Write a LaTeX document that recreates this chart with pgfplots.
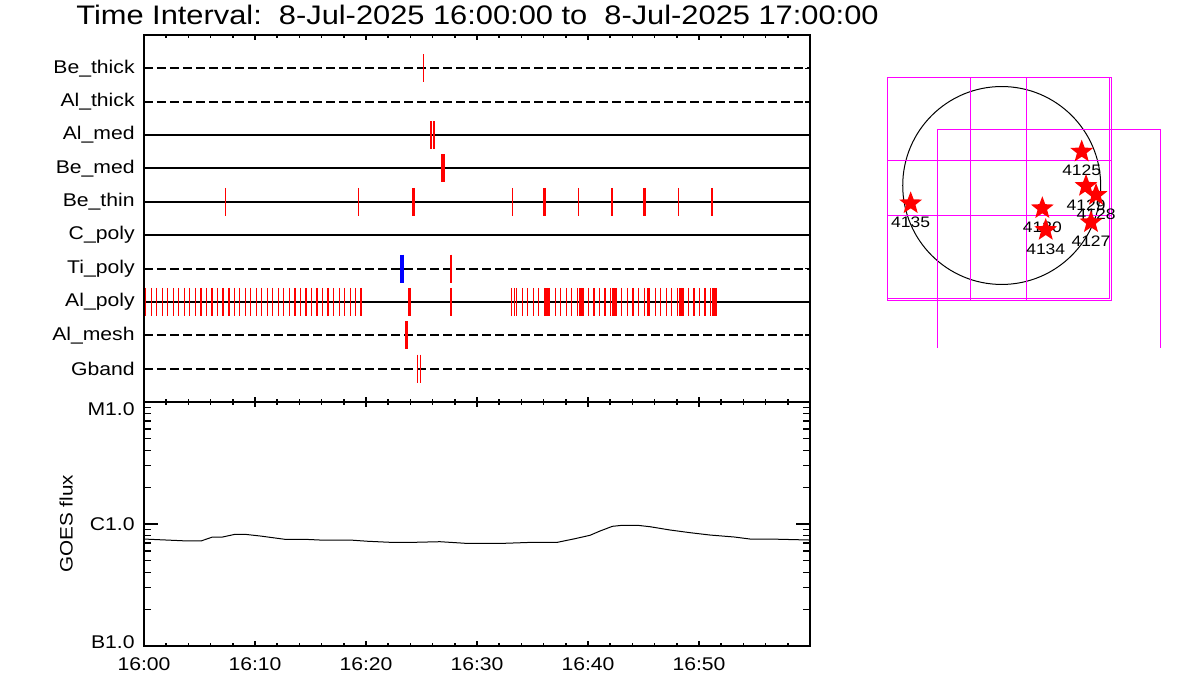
\documentclass[border=0pt]{standalone}
\usepackage{fontspec}
\setmainfont[FakeStretch=1.15]{Liberation Sans}
\usepackage{pgfplots}
\usepackage{pgfplotstable}
\pgfplotsset{compat=1.18}

\definecolor{idlred}{RGB}{255,0,0}
\definecolor{idlblue}{RGB}{0,0,255}
\definecolor{idlmag}{RGB}{255,0,255}

\pgfdeclareplotmark{fivestar}{%
  \pgfpathmoveto{\pgfpointpolar{90}{\pgfplotmarksize}}%
  \pgfpathlineto{\pgfpointpolar{126}{0.42*\pgfplotmarksize}}%
  \pgfpathlineto{\pgfpointpolar{162}{\pgfplotmarksize}}%
  \pgfpathlineto{\pgfpointpolar{198}{0.42*\pgfplotmarksize}}%
  \pgfpathlineto{\pgfpointpolar{234}{\pgfplotmarksize}}%
  \pgfpathlineto{\pgfpointpolar{270}{0.42*\pgfplotmarksize}}%
  \pgfpathlineto{\pgfpointpolar{306}{\pgfplotmarksize}}%
  \pgfpathlineto{\pgfpointpolar{342}{0.42*\pgfplotmarksize}}%
  \pgfpathlineto{\pgfpointpolar{18}{\pgfplotmarksize}}%
  \pgfpathlineto{\pgfpointpolar{54}{0.42*\pgfplotmarksize}}%
  \pgfpathclose
  \pgfusepathqfill}

% event bars: t = minutes after 16:00, row index
\pgfplotstableread{
t row
25.17 10
26.13 8
27.03 7
7.32 6
19.31 6
33.18 6
39.13 6
48.14 6
24.62 1
24.89 1
0.15 3
0.65 3
1.15 3
1.64 3
2.14 3
2.64 3
3.14 3
3.64 3
4.13 3
4.63 3
5.13 3
5.63 3
6.13 3
6.62 3
7.12 3
8.12 3
8.62 3
9.11 3
9.61 3
10.11 3
10.61 3
11.11 3
11.60 3
12.10 3
12.60 3
13.10 3
13.60 3
14.09 3
14.59 3
15.09 3
15.59 3
16.09 3
16.58 3
17.08 3
17.58 3
18.08 3
18.58 3
19.07 3
33.13 3
33.36 3
33.54 3
34.12 3
34.57 3
35.07 3
35.56 3
36.10 3
36.49 3
37.09 3
37.54 3
38.05 3
38.53 3
39.07 3
39.55 3
40.06 3
40.54 3
41.02 3
41.53 3
42.01 3
42.52 3
43.04 3
43.54 3
44.05 3
44.53 3
45.07 3
46.06 3
46.55 3
47.05 3
47.54 3
48.08 3
48.56 3
49.07 3
49.55 3
50.06 3
50.54 3
51.05 3
51.53 3
}\thinbars

\pgfplotstableread{
t row
25.83 8
26.82 7
27.63 4
27.63 3
7.62 3
19.57 3
}\medbars

\pgfplotstableread{
t row
24.26 6
36.10 6
42.16 6
45.10 6
51.17 6
23.90 3
36.28 3
39.31 3
42.28 3
48.32 3
51.29 3
23.63 2
}\thickbars

\pgfplotstableread{
t row
45.43 3
}\widebars

\pgfplotstableread{
t row
23.24 4
}\bluebars

\pgfplotstableread{
t flux
0.00  7.53e-7
3.92  7.26e-7
5.14  7.26e-7
6.17  7.82e-7
7.07  7.82e-7
8.20  8.23e-7
9.10  8.23e-7
10.45 7.98e-7
12.70 7.49e-7
14.50 7.49e-7
15.86 7.39e-7
18.56 7.39e-7
20.14 7.22e-7
22.16 7.08e-7
24.41 7.08e-7
26.67 7.16e-7
28.92 6.95e-7
32.52 6.95e-7
34.10 7.03e-7
35.00 7.08e-7
37.25 7.08e-7
38.83 7.58e-7
40.18 8.08e-7
41.08 8.76e-7
42.20 9.57e-7
43.10 9.76e-7
44.46 9.76e-7
45.59 9.50e-7
47.39 8.93e-7
49.19 8.49e-7
51.00 8.12e-7
53.20 7.82e-7
54.60 7.53e-7
56.40 7.53e-7
60.00 7.39e-7
}\goes

\pgfplotstableread{
x y lab
776 328 4125
818 -5 4129
915 -92 4128
866 -357 4127
394 -221 4130
427 -432 4134
-883 -173 4135
}\regions

\tikzset{rowdash/.style={dash pattern=on 4.4pt off 2.1pt}}

\begin{document}
\begin{tikzpicture}
\useasboundingbox (0pt,0pt) rectangle (600pt,350pt);

\node[font=\fontsize{13.4}{15}\selectfont, anchor=base, inner sep=0pt] at (238.75pt,337.5pt)
  {Time Interval:\ \ 8-Jul-2025 16:00:00 to\ \ 8-Jul-2025 17:00:00};

% ---------------- top panel ----------------
\begin{axis}[
  at={(72pt,149pt)}, anchor=south west, scale only axis,
  width=333pt, height=183.5pt,
  xmin=0, xmax=60, ymin=0, ymax=11,
  xtick={0,10,...,60}, minor x tick num=4, xticklabels={},
  ytick={1,...,10},
  yticklabels={Gband,Al\_mesh,Al\_poly,Ti\_poly,C\_poly,Be\_thin,Be\_med,Al\_med,Al\_thick,Be\_thick},
  tick align=inside, major tick length=2.5pt, minor tick length=1.5pt,
  tick style={line width=0.8pt, black},
  axis line style={line width=0.9pt},
  yticklabel style={font=\fontsize{9.2}{11}\selectfont, inner sep=0pt, xshift=-4.5pt},
  clip=false,
]
\addplot[black, line width=1pt, rowdash] coordinates {(0,10) (60,10)};
\addplot[black, line width=1pt, rowdash] coordinates {(0,9) (60,9)};
\addplot[black, line width=1pt] coordinates {(0,8) (60,8)};
\addplot[black, line width=1pt] coordinates {(0,7) (60,7)};
\addplot[black, line width=1pt] coordinates {(0,6) (60,6)};
\addplot[black, line width=1pt] coordinates {(0,5) (60,5)};
\addplot[black, line width=1pt, rowdash] coordinates {(0,4) (60,4)};
\addplot[black, line width=1pt] coordinates {(0,3) (60,3)};
\addplot[black, line width=1pt, rowdash] coordinates {(0,2) (60,2)};
\addplot[black, line width=1pt, rowdash] coordinates {(0,1) (60,1)};

\addplot[idlred, only marks, mark=|, mark size=7pt, mark options={line width=0.6pt, solid}] table[x=t,y=row] {\thinbars};
\addplot[idlred, only marks, mark=|, mark size=7pt, mark options={line width=0.95pt, solid}] table[x=t,y=row] {\medbars};
\addplot[idlred, only marks, mark=|, mark size=7pt, mark options={line width=1.25pt, solid}] table[x=t,y=row] {\thickbars};
\addplot[idlred, only marks, mark=|, mark size=7pt, mark options={line width=1.7pt, solid}] table[x=t,y=row] {\widebars};
\addplot[idlblue, only marks, mark=|, mark size=7pt, mark options={line width=2pt, solid}] table[x=t,y=row] {\bluebars};
\end{axis}

% ---------------- bottom panel: y ticks, curve ----------------
\begin{axis}[
  at={(72pt,27pt)}, anchor=south west, scale only axis,
  width=333pt, height=122pt,
  xmin=0, xmax=60, xtick=\empty,
  ymode=log, ymin=1e-7, ymax=1e-5,
  ytick={1e-7,1e-6,1e-5}, yticklabels={B1.0,C1.0,M1.0},
  minor ytick={2e-7,3e-7,4e-7,5e-7,6e-7,7e-7,8e-7,9e-7,2e-6,3e-6,4e-6,5e-6,6e-6,7e-6,8e-6,9e-6},
  ytick pos=both, yticklabel pos=left,
  tick align=inside, major tick length=7pt, minor tick length=3.5pt,
  tick style={line width=0.6pt, black},
  axis line style={line width=0.9pt},
  yticklabel style={font=\fontsize{9.2}{11}\selectfont, inner sep=0pt, xshift=-4.5pt,
    yshift={ifthenelse(\ticknum==0,2,ifthenelse(\ticknum==2,-3.5,0))}},
  ylabel={GOES flux},
  ylabel style={at={(axis description cs:-0.117,0.5)}, anchor=center, font=\fontsize{9}{11}\selectfont},
]
\addplot[black, line width=0.5pt] table[x=t,y=flux] {\goes};
\end{axis}

% ---------------- bottom panel: x ticks ----------------
\begin{axis}[
  at={(72pt,27pt)}, anchor=south west, scale only axis,
  width=333pt, height=122pt,
  xmin=0, xmax=60, ymin=0, ymax=1, ytick=\empty,
  xtick={0,10,...,60}, minor x tick num=4,
  xticklabels={16:00,16:10,16:20,16:30,16:40,16:50,{}},
  tick align=inside, major tick length=2.5pt, minor tick length=1.5pt,
  tick style={line width=0.8pt, black},
  axis line style={line width=0.9pt},
  xticklabel style={font=\fontsize{9.2}{11}\selectfont, inner sep=0pt, yshift=-5.5pt},
]
\end{axis}

% ---------------- solar disk panel ----------------
\begin{axis}[
  at={(435pt,175pt)}, anchor=south west, scale only axis,
  width=155pt, height=145pt,
  xmin=-1277.5, xmax=1729.5, ymin=-1595.7, ymax=1217.4,
  axis lines=none, clip=false,
]
\draw[black, line width=0.5pt] (axis cs:0,0) circle [radius=960];
\addplot[idlmag, line width=0.5pt] coordinates {(-1110,1050) (1044,1050) (1044,-1098) (-1110,-1098) (-1110,1050)};
\addplot[idlmag, line width=0.5pt] coordinates {(-1110,1050) (1067,1050) (1067,-1111) (-1110,-1111) (-1110,1050)};
\addplot[idlmag, line width=0.5pt] coordinates {(-307,1050) (-307,-1111)};
\addplot[idlmag, line width=0.5pt] coordinates {(236,1050) (236,-1111)};
\addplot[idlmag, line width=0.5pt] coordinates {(-1110,247) (1067,247)};
\addplot[idlmag, line width=0.5pt] coordinates {(-1110,-293) (1067,-293)};
\addplot[idlmag, line width=0.5pt] coordinates {(-621,-1576) (-621,545) (1536,545) (1536,-1576)};
\addplot[idlred, only marks, mark=fivestar, mark size=6pt,
  nodes near coords, point meta=explicit symbolic,
  every node near coord/.style={anchor=center, yshift=-9.4pt, text=black, inner sep=0pt,
    font=\fontsize{7.6}{8}\selectfont}]
  table[x=x,y=y,meta=lab] {\regions};
\end{axis}
\end{tikzpicture}
\end{document}
